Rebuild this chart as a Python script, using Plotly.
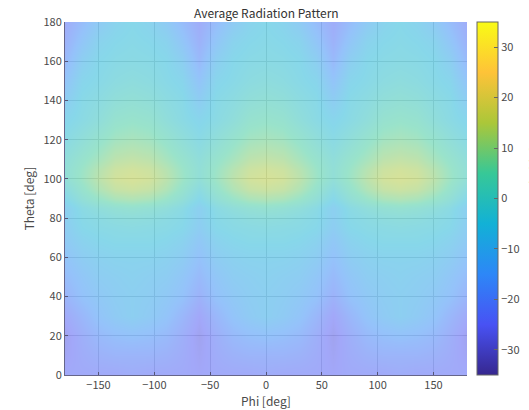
import plotly.graph_objects as go

phi = list(range(-180, 181, 15))
theta = [0, 10, 20, 30, 40, 50, 60, 70, 75, 80, 85, 90, 95, 100, 105, 110, 120, 130, 140, 150, 160, 170, 180]

z_rows = [
 [-24,-24,-24,-24,-23,-24,-24,-24,-25,-24,-24,-24,-23,-24,-24,-24,-25,-24,-24,-24,-23,-24,-24,-24,-24],
 [-26,-23,-21,-20,-20,-20,-21,-23,-26,-23,-21,-20,-20,-20,-21,-23,-26,-23,-21,-20,-20,-20,-21,-23,-26],
 [-27,-22,-18,-16,-15,-16,-18,-22,-27,-22,-18,-16,-15,-16,-18,-22,-27,-22,-18,-16,-15,-16,-18,-22,-27],
 [-24,-19,-14,-11,-9,-11,-14,-19,-25,-19,-14,-11,-9,-11,-14,-19,-25,-19,-14,-11,-9,-11,-14,-19,-24],
 [-20,-15,-12,-10,-9,-10,-12,-15,-21,-15,-12,-10,-9,-10,-12,-15,-21,-15,-12,-10,-9,-10,-12,-15,-20],
 [-17,-13,-10,-9,-8,-9,-10,-13,-18,-13,-10,-9,-8,-9,-10,-13,-18,-13,-10,-9,-8,-9,-10,-13,-17],
 [-14,-10,-8,-7,-7,-7,-8,-10,-15,-10,-8,-7,-7,-7,-8,-10,-15,-10,-8,-7,-7,-7,-8,-10,-14],
 [-11,-7,-5,-4,-4,-4,-5,-7,-12,-7,-5,-4,-4,-4,-5,-7,-12,-7,-5,-4,-4,-4,-5,-7,-11],
 [-10,-5,-3.5,-3,-2.5,-3,-3.5,-5,-10,-5,-3.5,-3,-2.5,-3,-3.5,-5,-10,-5,-3.5,-3,-2.5,-3,-3.5,-5,-10],
 [-9,-4,-2.5,-1,-0.5,-1,-2.5,-4,-9,-4,-2.5,-1,-0.5,-1,-2.5,-4,-9,-4,-2.5,-1,-0.5,-1,-2.5,-4,-9],
 [-9,-3,0,2,3,2,0,-3,-9,-3,0,2,3,2,0,-3,-9,-3,0,2,3,2,0,-3,-9],
 [-5,1,5,8,9,8,5,1,-5,1,5,8,9,8,5,1,-5,1,5,8,9,8,5,1,-5],
 [-2,4,9,12.5,13.5,12.5,9,4,-2,4,9,12.5,13.5,12.5,9,4,-2,4,9,12.5,13.5,12.5,9,4,-2],
 [1,6,11,14.5,15.5,14.5,11,6,1,6,11,14.5,15.5,14.5,11,6,1,6,11,14.5,15.5,14.5,11,6,1],
 [1,5.5,10,13.5,14.5,13.5,10,5.5,1,5.5,10,13.5,14.5,13.5,10,5.5,1,5.5,10,13.5,14.5,13.5,10,5.5,1],
 [0,4,7.5,11,12,11,7.5,4,0,4,7.5,11,12,11,7.5,4,0,4,7.5,11,12,11,7.5,4,0],
 [-3,0.5,4,7,8,7,4,0.5,-3,0.5,4,7,8,7,4,0.5,-3,0.5,4,7,8,7,4,0.5,-3],
 [-6,-3,0,3.5,4.5,3.5,0,-3,-6,-3,0,3.5,4.5,3.5,0,-3,-6,-3,0,3.5,4.5,3.5,0,-3,-6],
 [-10,-4,-2,0.5,1.5,0.5,-2,-4,-10,-4,-2,0.5,1.5,0.5,-2,-4,-10,-4,-2,0.5,1.5,0.5,-2,-4,-10],
 [-14,-6,-4,-2,-1,-2,-4,-6,-14,-6,-4,-2,-1,-2,-4,-6,-14,-6,-4,-2,-1,-2,-4,-6,-14],
 [-18,-9,-5,-3.5,-3,-3.5,-5,-9,-18,-9,-5,-3.5,-3,-3.5,-5,-9,-18,-9,-5,-3.5,-3,-3.5,-5,-9,-18],
 [-21,-13,-7,-5,-4,-5,-7,-13,-21,-13,-7,-5,-4,-5,-7,-13,-21,-13,-7,-5,-4,-5,-7,-13,-21],
 [-23,-17,-11,-7,-5,-7,-11,-17,-23,-17,-11,-7,-5,-7,-11,-17,-23,-17,-11,-7,-5,-7,-11,-17,-23],
]

parula = [
 [0/7, "#36278f"], [1/7, "#4852f4"], [2/7, "#2d87f7"], [3/7, "#12b1d6"],
 [4/7, "#37c897"], [5/7, "#abc739"], [6/7, "#fec338"], [7/7, "#f9fb15"],
]

FONT = "Noto Sans CJK JP, Noto Sans, sans-serif"
TXT = "#4a4a4a"

fig = go.Figure(go.Heatmap(
    x=phi, y=theta, z=z_rows, zmin=-35, zmax=35, zsmooth="best",
    colorscale=parula, opacity=0.5,
    colorbar=dict(
        x=(477-65)/402, xanchor="left", xpad=0, ypad=0, y=0.5, yanchor="middle", len=1,
        thickness=21, tickvals=[-30,-20,-10,0,10,20,30], tickprefix="\u00a0",
        ticks="inside", ticklen=4, tickcolor="#666666", tickwidth=1,
        outlinecolor="#666666", outlinewidth=1, borderwidth=0,
        tickfont=dict(size=11, color=TXT, family=FONT),
    ),
))

axis = dict(
    showgrid=True, gridcolor="#dcdcdc", gridwidth=1, zeroline=False,
    ticks="inside", ticklen=3, tickcolor="#555577", showline=True,
    linecolor="#66668a", linewidth=1,
    tickfont=dict(size=11, color=TXT, family=FONT),
)

fig.update_layout(
    width=529, height=410, paper_bgcolor="white", plot_bgcolor="white",
    margin=dict(l=65, r=62, t=22, b=35, autoexpand=False),
    font=dict(family=FONT, size=11, color=TXT),
    xaxis=dict(range=[-180,180], tickvals=[-150,-100,-50,0,50,100,150], **axis),
    yaxis=dict(range=[0,180], tickvals=list(range(0,181,20)), **axis,
               title=dict(text="Theta [deg]", font=dict(size=12, color=TXT, family=FONT), standoff=6)),
    annotations=[
        dict(text="Average Radiation Pattern", xref="paper", yref="paper", x=0.5, y=1,
             yanchor="bottom", yshift=-1, showarrow=False, font=dict(size=12, color="#333333", family=FONT)),
        dict(text="Phi [deg]", xref="paper", yref="paper", x=0.5, y=0,
             yanchor="middle", yshift=-25, showarrow=False, font=dict(size=12, color=TXT, family=FONT)),
        dict(text="Antenna Gain [dB]", xref="paper", yref="paper", x=(533-65)/402, y=0.5,
             xanchor="center", yanchor="middle", textangle=-90, showarrow=False,
             font=dict(size=12, color=TXT, family=FONT)),
    ],
)

fig.write_html("out.html", config=dict(displayModeBar=False), post_script="document.body.style.margin='0';")
